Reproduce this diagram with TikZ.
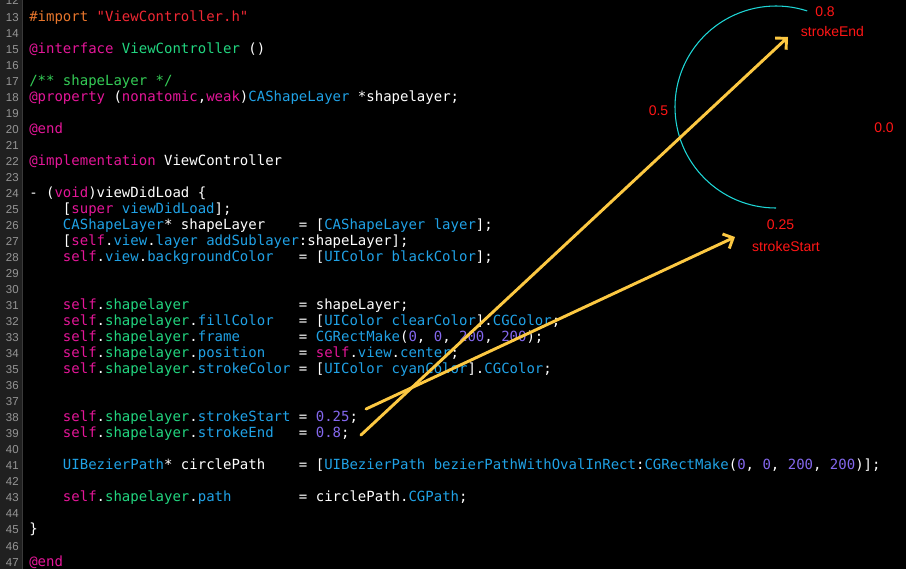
\documentclass[tikz,border=0pt]{standalone}
\usepackage{fontspec}
\setmonofont{DejaVu Sans Mono}
\setsansfont{Liberation Sans}
\usetikzlibrary{arrows.meta}
\definecolor{keyword}{RGB}{228,22,152}
\definecolor{classname}{RGB}{32,162,230}
\definecolor{project}{RGB}{34,214,128}
\definecolor{comment}{RGB}{52,204,86}
\definecolor{number}{RGB}{132,104,238}
\definecolor{string}{RGB}{240,40,52}
\definecolor{preproc}{RGB}{232,118,44}
\definecolor{gutter}{RGB}{32,32,32}
\definecolor{gutterline}{RGB}{58,58,58}
\definecolor{linenumber}{RGB}{150,150,150}
\definecolor{pointer}{RGB}{252,200,66}
\definecolor{ringcyan}{RGB}{30,214,214}
\definecolor{valuered}{RGB}{255,22,22}
\newcommand{\kw}[1]{\textcolor{keyword}{#1}}
\newcommand{\cl}[1]{\textcolor{classname}{#1}}
\newcommand{\pj}[1]{\textcolor{project}{#1}}
\newcommand{\nm}[1]{\textcolor{number}{#1}}
\newcommand{\strg}[1]{\textcolor{string}{#1}}
\newcommand{\pp}[1]{\textcolor{preproc}{#1}}
\newcommand{\cm}[1]{\textcolor{comment}{#1}}
\tikzstyle{code}=[
	anchor=base west,
	inner sep=0pt,
	text=white,
	font=\ttfamily\fontsize{10.5}{12}\selectfont
]
\tikzstyle{lineno}=[
	anchor=base east,
	inner sep=0pt,
	text=linenumber,
	font=\sffamily\fontsize{8.6}{9}\selectfont
]
\tikzstyle{value}=[
	anchor=base,
	inner sep=0pt,
	text=valuered,
	font=\sffamily\fontsize{10.5}{12}\selectfont
]
\tikzstyle{hint}=[
	-{Straight Barb[length=6pt,width=12pt]},
	line width=2.2pt,
	draw=pointer,
	line cap=round,
	line join=round
]
\tikzstyle{ring}=[
	draw=ringcyan,
	line width=0.8pt
]

\begin{document}
\begin{tikzpicture}[x=0.75pt,y=-0.75pt]
\useasboundingbox (0,0) rectangle (906,569);
\fill[black] (0,0) rectangle (906,569);
\fill[gutter] (0,0) rectangle (22,569);
\draw[gutterline] (22.5,0) -- (22.5,569);
\foreach \n in {12,...,47}
	\node [lineno] (N\n) at (19,{21+(\n-13)*16.03}) {\n};
% source lines
\node [code] (L13) at (29,21) {\pp{\#import} \strg{"ViewController.h"}};
\node [code] (L15) at (29,53.06) {\kw{@interface} \pj{ViewController} ()};
\node [code] (L17) at (29,85.12) {\cm{/** shapeLayer */}};
\node [code] (L18) at (29,101.15) {\kw{@property} (\kw{nonatomic},\kw{weak})\cl{CAShapeLayer} *shapelayer;};
\node [code] (L20) at (29,133.21) {\kw{@end}};
\node [code] (L22) at (29,165.27) {\kw{@implementation} ViewController};
\node [code] (L24) at (29,197.33) {- (\kw{void})viewDidLoad \{};
\node [code] (L25) at (62.7,213.36) {[\kw{super} \cl{viewDidLoad}];};
\node [code] (L26) at (62.7,229.39) {\cl{CAShapeLayer}* shapeLayer~~~~= [\cl{CAShapeLayer layer}];};
\node [code] (L27) at (62.7,245.42) {[\kw{self}.\cl{view}.\cl{layer} \cl{addSublayer}:shapeLayer];};
\node [code] (L28) at (62.7,261.45) {\kw{self}.\cl{view}.\cl{backgroundColor}~~~= [\cl{UIColor blackColor}];};
\node [code] (L31) at (62.7,309.54) {\kw{self}.\pj{shapelayer}~~~~~~~~~~~~~= shapeLayer;};
\node [code] (L32) at (62.7,325.57) {\kw{self}.\pj{shapelayer}.\cl{fillColor}~~~= [\cl{UIColor clearColor}].\cl{CGColor};};
\node [code] (L33) at (62.7,341.6) {\kw{self}.\pj{shapelayer}.\cl{frame}~~~~~~~= \cl{CGRectMake}(\nm{0}, \nm{0}, \nm{200}, \nm{200});};
\node [code] (L34) at (62.7,357.63) {\kw{self}.\pj{shapelayer}.\cl{position}~~~~= \kw{self}.\cl{view}.\cl{center};};
\node [code] (L35) at (62.7,373.66) {\kw{self}.\pj{shapelayer}.\cl{strokeColor}~= [\cl{UIColor cyanColor}].\cl{CGColor};};
\node [code] (L38) at (62.7,421.75) {\kw{self}.\pj{shapelayer}.\cl{strokeStart}~= \nm{0.25};};
\node [code] (L39) at (62.7,437.78) {\kw{self}.\pj{shapelayer}.\cl{strokeEnd}~~~= \nm{0.8};};
\node [code] (L41) at (62.7,469.84) {\cl{UIBezierPath}* circlePath~~~~= [\cl{UIBezierPath bezierPathWithOvalInRect}:\cl{CGRectMake}(\nm{0}, \nm{0}, \nm{200}, \nm{200})];};
\node [code] (L43) at (62.7,501.9) {\kw{self}.\pj{shapelayer}.\cl{path}~~~~~~~~= circlePath.\cl{CGPath};};
\node [code] (L45) at (29,533.96) {\}};
\node [code] (L47) at (29,566.02) {\kw{@end}};
% the stroked arc and its values
\draw [ring] (776,107) ++(90:101) arc [start angle=90, end angle=288, radius=101];
\node [value] (ValueEnd) at (825,16.7) {0.8};
\node [value] (StrokeEnd) at (832.5,36.7) {strokeEnd};
\node [value] (ValueHalf) at (658.5,115) {0.5};
\node [value] (ValueZero) at (884,132.3) {0.0};
\node [value] (ValueStart) at (780.5,229) {0.25};
\node [value] (StrokeStart) at (786,251.7) {strokeStart};
% pointers from the code
\coordinate (StartTail) at (366,409);
\coordinate (EndTail) at (361,435);
\coordinate (StartTip) at (735,237);
\coordinate (EndTip) at (788,37);
\draw [hint] (StartTail) -- (StartTip);
\draw [hint] (EndTail) -- (EndTip);
\end{tikzpicture}
\end{document}
